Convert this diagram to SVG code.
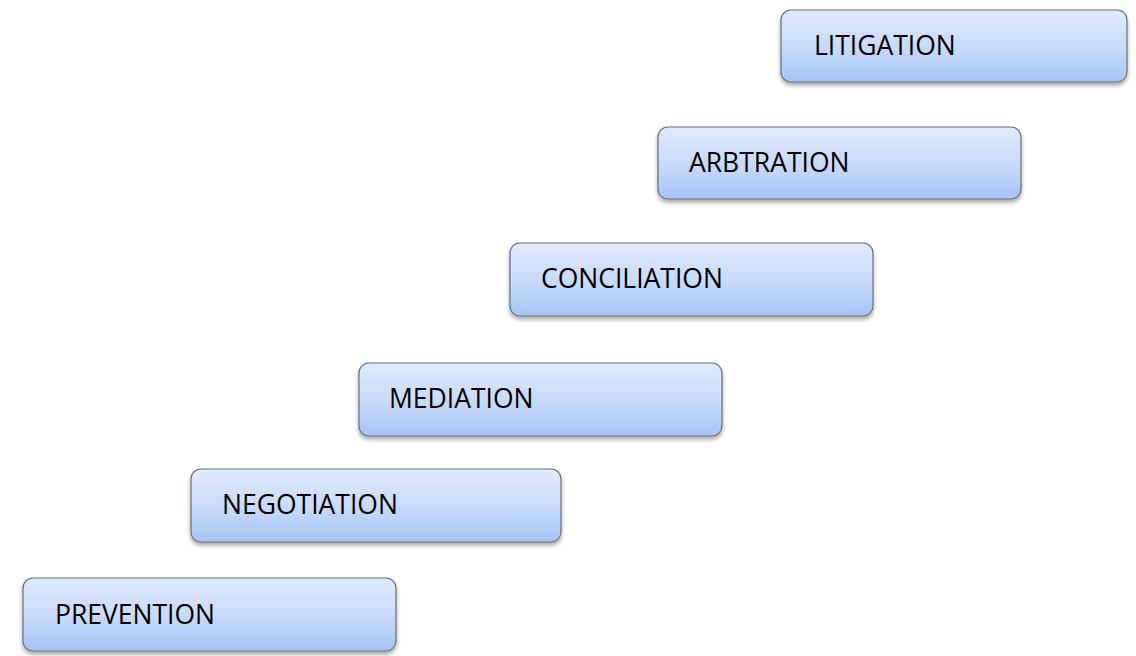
<svg xmlns="http://www.w3.org/2000/svg" width="1136" height="656" viewBox="0 0 1136 656">
<defs>
<linearGradient id="g" x1="0" y1="0" x2="0" y2="1">
<stop offset="0" stop-color="#e0ebfc"/>
<stop offset="0.5" stop-color="#c9dbf9"/>
<stop offset="1" stop-color="#a6c4f5"/>
</linearGradient>
<filter id="sh" x="-5%" y="-10%" width="110%" height="130%">
<feGaussianBlur in="SourceAlpha" stdDeviation="2"/>
<feOffset dx="0" dy="3" result="b"/>
<feComponentTransfer><feFuncA type="linear" slope="0.35"/></feComponentTransfer>
<feMerge><feMergeNode/><feMergeNode in="SourceGraphic"/></feMerge>
</filter>
</defs>
<style>
.box{fill:url(#g);stroke:#6b6f78;stroke-width:1.2;filter:url(#sh)}
.lbl{font-family:"Open Sans","Liberation Sans",Arial,sans-serif;font-size:26.5px;fill:#000}
</style>
<rect width="1136" height="656" fill="#fff"/>
<g id="connectors"/>
<g id="litigation"><rect class="box" x="781" y="10" width="346" height="72" rx="10"/><text class="lbl" x="814" y="55">LITIGATION</text></g>
<g id="arbtration"><rect class="box" x="658" y="127" width="363" height="72" rx="10"/><text class="lbl" x="689" y="172">ARBTRATION</text></g>
<g id="conciliation"><rect class="box" x="510" y="243" width="363" height="73" rx="10"/><text class="lbl" x="541" y="288">CONCILIATION</text></g>
<g id="mediation"><rect class="box" x="359" y="363" width="363" height="73" rx="10"/><text class="lbl" x="389" y="408">MEDIATION</text></g>
<g id="negotiation"><rect class="box" x="191" y="469" width="370" height="73" rx="10"/><text class="lbl" x="222" y="514">NEGOTIATION</text></g>
<g id="prevention"><rect class="box" x="23" y="578" width="373" height="73" rx="10"/><text class="lbl" x="55" y="624">PREVENTION</text></g>
</svg>
